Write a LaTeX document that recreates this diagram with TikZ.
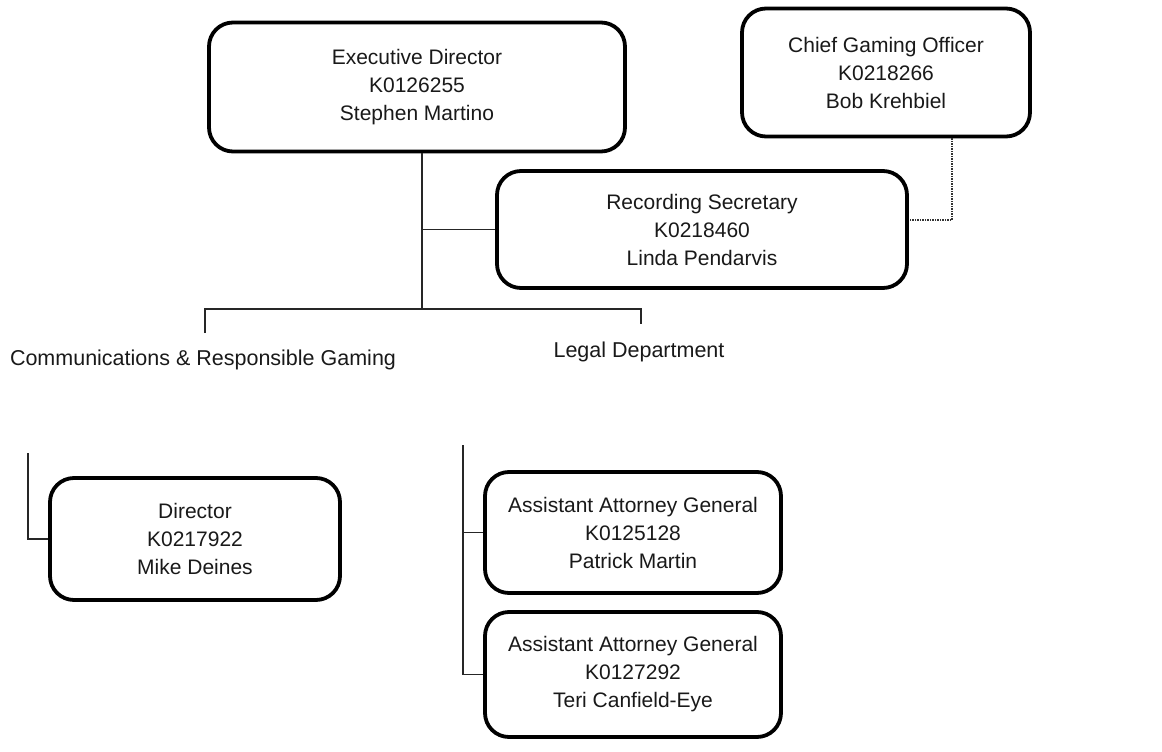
\documentclass[tikz,border=0pt]{standalone}
\usepackage{fontspec}
\setmainfont{Liberation Sans}
\begin{document}
\begin{tikzpicture}[x=1pt,y=-1pt,
  orgbox/.style={draw, line width=3.8pt, rounded corners=24pt, align=center,
    inner sep=0pt, font=\fontsize{21}{28}\selectfont, text=black!90},
  wire/.style={line width=1.3pt, draw=black!85},
  dotwire/.style={line width=1.5pt, draw=black!80, densely dotted},
  lbl/.style={font=\fontsize{21.5}{28}\selectfont, text=black!90, anchor=base, inner sep=0pt}]
\useasboundingbox (0,0) rectangle (1162,752);
\node[orgbox, minimum width=416pt, minimum height=129pt] (exec) at (417,87)
  {Executive Director\\K0126255\\Stephen Martino};
\node[orgbox, minimum width=288pt, minimum height=128pt] (chief) at (886,72.5)
  {Chief Gaming Officer\\K0218266\\Bob Krehbiel};
\node[orgbox, minimum width=410pt, minimum height=117pt] (rec) at (702,229.5)
  {Recording Secretary\\K0218460\\Linda Pendarvis};
\node[lbl] (comm) at (203,365) {Communications \& Responsible Gaming};
\node[lbl] (legal) at (639,357) {Legal Department};
\node[orgbox, minimum width=290pt, minimum height=122pt] (dir) at (195,539)
  {Director\\K0217922\\Mike Deines};
\node[orgbox, minimum width=296pt, minimum height=121pt] (aag1) at (633,532.5)
  {Assistant Attorney General\\K0125128\\Patrick Martin};
\node[orgbox, minimum width=296pt, minimum height=125pt] (aag2) at (633,674.5)
  {Assistant Attorney General\\K0127292\\Teri Canfield-Eye};
% junctions
\coordinate (j1) at (422,309);
\coordinate (jl) at (205,309);
\coordinate (jr) at (641,309);
\coordinate (dl) at (205,333);
\coordinate (dr) at (641,324);
\coordinate (c1) at (28,453);
\coordinate (c2) at (463,445);
\coordinate (k1) at (952,220);
% connectors
\draw[wire] (exec.south -| j1) -- (j1);
\draw[wire] (rec.west) -- (rec.west -| j1);
\draw[wire] (dl) -- (jl) -- (jr) -- (dr);
\draw[wire] (c1) |- (dir.west);
\draw[wire] (c2) |- (aag1.west);
\draw[wire] (c2) |- (aag2.west);
\draw[dotwire] (chief.south -| k1) -- (k1) -- (k1 -| rec.east);
\end{tikzpicture}
\end{document}
